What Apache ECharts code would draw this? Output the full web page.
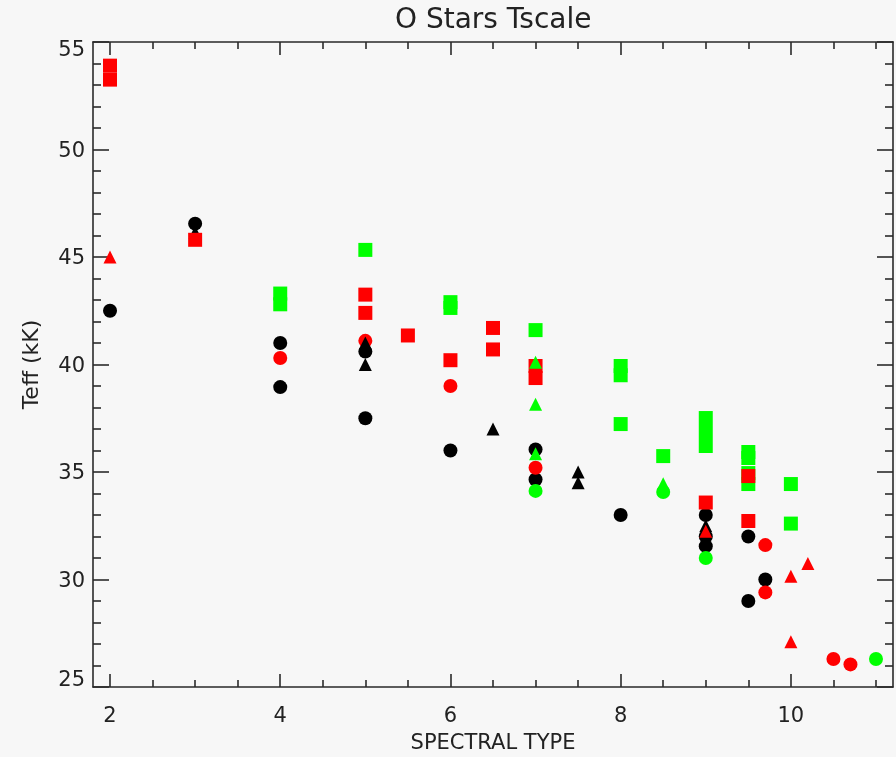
<!DOCTYPE html>
<html>
<head>
<meta charset="utf-8">
<title>O Stars Tscale</title>
<script src="https://cdn.jsdelivr.net/npm/echarts@6/dist/echarts.min.js"></script>
<style>
  html, body { margin: 0; padding: 0; background: #f7f7f7; }
  #chart { width: 896px; height: 757px; }
</style>
</head>
<body>
<div id="chart"></div>
<script>
// Axis tick positions (spectral subtype)
const xMajorTicks = [2, 4, 6, 8, 10];
const xMinorTicks = [2.5, 3, 3.5, 4.5, 5, 5.5, 6.5, 7, 7.5, 8.5, 9, 9.5, 10.5, 11];

// Teff (kK) versus spectral type, grouped by colour and symbol
const greenSquares = [
  [4, 43.3], [4, 42.8], [5, 45.33], [6, 42.9], [6, 42.63], [7, 41.6],
  [8, 39.93], [8, 39.5], [8, 37.23], [8.5, 35.74], [9, 37.51], [9, 36.86],
  [9, 36.21], [9.5, 35.93], [9.5, 35.65], [9.5, 34.95], [9.5, 34.44],
  [10, 34.44], [10, 32.6]
];
const blackCircles = [
  [2, 42.5], [3, 46.55], [4, 41.0], [4, 38.95], [5, 40.6], [5, 37.5],
  [6, 36.0], [7, 36.05], [7, 34.65], [8, 33.0], [9, 33.0], [9, 32.0],
  [9, 31.55], [9.5, 32.0], [9.5, 29.0], [9.7, 30.0]
];
const redCircles = [
  [4, 40.3], [5, 41.1], [6, 39.0], [7, 35.2], [9.7, 31.6], [9.7, 29.4],
  [10.5, 26.3], [10.7, 26.05]
];
const blackTriangles = [
  [3, 46.15], [5, 41.0], [5, 40.0], [6.5, 37.0], [7.5, 35.0], [7.5, 34.5],
  [9, 32.5]
];
const redSquares = [
  [2, 53.9], [2, 53.25], [3, 45.8], [5, 43.25], [5, 42.4], [5.5, 41.35],
  [6, 40.2], [6.5, 41.7], [6.5, 40.7], [7, 39.93], [7, 39.37], [9, 33.58],
  [9.5, 34.81], [9.5, 32.72]
];
const redTriangles = [
  [2, 45.0], [9, 32.25], [10, 30.15], [10.2, 30.75], [10, 27.1]
];
const greenCircles = [
  [7, 34.12], [8.5, 34.07], [9, 31.0], [11, 26.3]
];
const greenTriangles = [
  [7, 40.1], [7, 38.15], [7, 35.85], [8.5, 34.45]
];

const BLACK = '#000000';
const RED = '#ff0000';
const GREEN = '#00ff00';
const AXIS_COLOR = '#2a2a2a';
const FONT = 'DejaVu Sans';

function xAxisDef(position, ticks, tickLen, withLabels) {
  return {
    type: 'value',
    position: position,
    min: 1.8,
    max: 11.2,
    axisLine: { show: withLabels !== null, lineStyle: { color: AXIS_COLOR, width: 1.6 } },
    axisTick: {
      show: true, inside: true, length: tickLen, customValues: ticks,
      lineStyle: { color: AXIS_COLOR, width: 1.6 }
    },
    axisLabel: withLabels ? {
      show: true, customValues: xMajorTicks, margin: 19,
      fontSize: 21, color: '#222', fontFamily: FONT
    } : { show: false },
    splitLine: { show: false },
    minorTick: { show: false }
  };
}

function yAxisDef(position, withLabels) {
  return {
    type: 'value',
    position: position,
    min: 25,
    max: 55,
    interval: 5,
    axisLine: { show: true, lineStyle: { color: AXIS_COLOR, width: 1.6 } },
    axisTick: { show: true, inside: true, length: 16, lineStyle: { color: AXIS_COLOR, width: 1.6 } },
    minorTick: { show: true, splitNumber: 5, length: 8, lineStyle: { color: AXIS_COLOR, width: 1.6 } },
    axisLabel: withLabels ? {
      show: true, margin: 8, fontSize: 21, color: '#222', fontFamily: FONT,
      formatter: function (v) {
        if (v === 55) return '{t|55}';
        if (v === 25) return '{b|25}';
        return '{m|' + v + '}';
      },
      rich: {
        t: { fontSize: 21, color: '#222', fontFamily: FONT, padding: [18, 0, 0, 0] },
        b: { fontSize: 21, color: '#222', fontFamily: FONT, padding: [0, 0, 12, 0] },
        m: { fontSize: 21, color: '#222', fontFamily: FONT, padding: [4, 0, 0, 0] }
      }
    } : { show: false },
    splitLine: { show: false }
  };
}

const xAxes = [
  Object.assign(xAxisDef('bottom', xMajorTicks, 13, true), {
    name: 'SPECTRAL TYPE', nameLocation: 'middle', nameGap: 46,
    nameTextStyle: { fontSize: 21, color: '#222', fontFamily: FONT }
  }),
  xAxisDef('top', xMajorTicks, 13, false),
  xAxisDef('bottom', xMinorTicks, 7, null),
  xAxisDef('top', xMinorTicks, 7, null)
];

const yAxes = [
  Object.assign(yAxisDef('left', true), {
    name: 'Teff (kK)', nameLocation: 'middle', nameGap: 50, nameRotate: 90,
    nameTextStyle: { fontSize: 22, color: '#222', fontFamily: FONT }
  }),
  yAxisDef('right', false)
];

function scatter(name, data, symbol, size, color) {
  return {
    name: name,
    type: 'scatter',
    xAxisIndex: 0,
    yAxisIndex: 0,
    data: data,
    symbol: symbol,
    symbolSize: size,
    itemStyle: { color: color, opacity: 1 },
    emphasis: { disabled: true },
    silent: true
  };
}

const option = {
  backgroundColor: '#f7f7f7',
  animation: false,
  title: {
    text: 'O Stars Tscale',
    left: 390,
    top: 2,
    textStyle: { fontSize: 28, fontWeight: 'normal', color: '#222', fontFamily: FONT }
  },
  grid: {
    left: 93, top: 42, width: 800, height: 645,
    containLabel: false, outerBoundsMode: 'none'
  },
  xAxis: xAxes,
  yAxis: yAxes,
  series: [
    scatter('green squares', greenSquares, 'rect', 14, GREEN),
    scatter('black circles', blackCircles, 'circle', 14, BLACK),
    scatter('red circles', redCircles, 'circle', 14, RED),
    scatter('black triangles', blackTriangles, 'triangle', 13, BLACK),
    scatter('red squares', redSquares, 'rect', 14, RED),
    scatter('red triangles', redTriangles, 'triangle', 13, RED),
    scatter('green circles', greenCircles, 'circle', 14, GREEN),
    scatter('green triangles', greenTriangles, 'triangle', 13, GREEN)
  ]
};

const chart = echarts.init(document.getElementById('chart'), null, { renderer: 'canvas' });
chart.setOption(option);
</script>
</body>
</html>
